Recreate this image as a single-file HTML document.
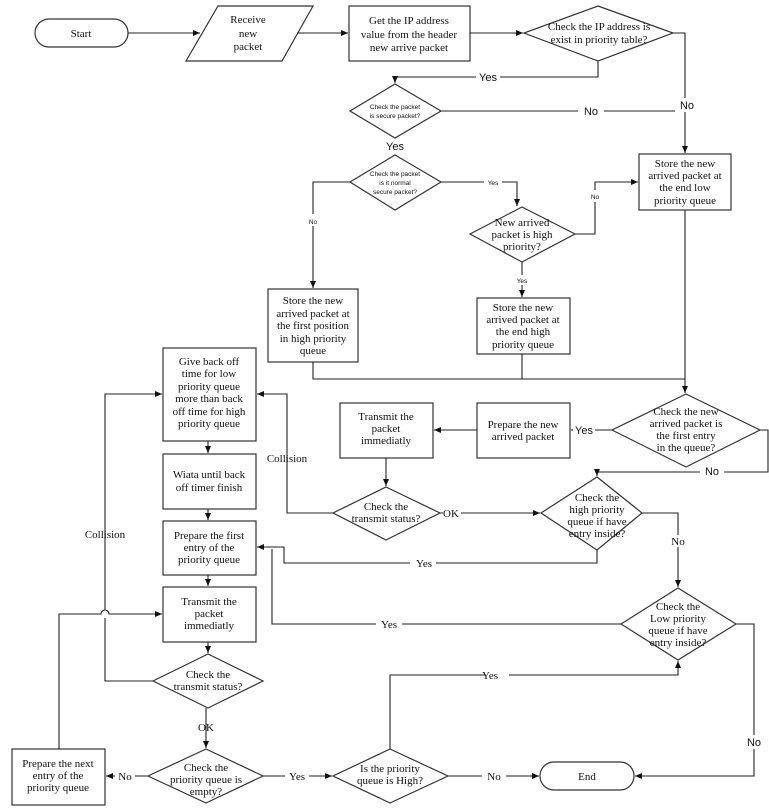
<!DOCTYPE html>
<html><head><meta charset="utf-8"><style>
html,body{margin:0;padding:0;background:#fff}
svg{display:block}
text{font-family:"Liberation Serif",serif;font-size:11px;fill:#111;text-anchor:middle}
.s{font-family:"Liberation Sans",sans-serif}
.t{font-family:"Liberation Sans",sans-serif;font-size:6.5px}
</style></head><body>
<svg width="769" height="809" viewBox="0 0 769 809" xmlns="http://www.w3.org/2000/svg">
<defs><marker id="a" markerWidth="8" markerHeight="8" refX="7" refY="4" orient="auto" markerUnits="userSpaceOnUse"><path d="M0,1 L7,4 L0,7 z" fill="#111"/></marker></defs>
<g fill="#fff" stroke="#333" stroke-width="1.2">
<rect x="35" y="19" width="93" height="28" rx="14"/>
<polygon points="218,6 313,6 282,61 186,61"/>
<rect x="349" y="6" width="121" height="55"/>
<polygon points="598,6 673,33 598,61 524,33"/>
<polygon points="395,84 441,111 395,138 350,111"/>
<polygon points="395,155 441,182 395,210 350,182"/>
<polygon points="522,207 575,234 522,262 470,234"/>
<rect x="639" y="154" width="92" height="56"/>
<rect x="268" y="289" width="90" height="73"/>
<rect x="477" y="298" width="93" height="56"/>
<polygon points="686,394 760,430 686,467 612,430"/>
<rect x="477" y="403" width="93" height="55"/>
<rect x="340" y="403" width="93" height="55"/>
<polygon points="386,487 440,513 386,540 333,513"/>
<polygon points="597,477 642,513 597,550 541,513"/>
<rect x="163" y="348" width="93" height="93"/>
<rect x="163" y="454" width="93" height="55"/>
<rect x="163" y="521" width="93" height="54"/>
<rect x="163" y="587" width="93" height="55"/>
<polygon points="208,654 263,681 208,708 153,681"/>
<polygon points="206,749 263,776 206,803 148,776"/>
<rect x="12" y="749" width="93" height="56"/>
<polygon points="390,749 448,776 390,803 333,776"/>
<rect x="540" y="762" width="94" height="28" rx="14"/>
<polygon points="678,588 736,624 678,660 621,624"/>
</g>
<g fill="none" stroke="#222" stroke-width="1.1">
<path d="M128,33 H200" marker-end="url(#a)"/>
<path d="M297,33 H348" marker-end="url(#a)"/>
<path d="M470,33 H523" marker-end="url(#a)"/>
<path d="M598,61 V77 H395 V83" marker-end="url(#a)"/>
<path d="M673,33 H685 V153" marker-end="url(#a)"/>
<path d="M441,111 H685"/>
<path d="M350,182 H313 V288" marker-end="url(#a)"/>
<path d="M441,182 H517 V206" marker-end="url(#a)"/>
<path d="M575,234 H595 V182 H638" marker-end="url(#a)"/>
<path d="M522,262 V297" marker-end="url(#a)"/>
<path d="M313,362 V379 H685"/>
<path d="M522,354 V379"/>
<path d="M685,210 V393" marker-end="url(#a)"/>
<path d="M612,430 H571" marker-end="url(#a)"/>
<path d="M477,430 H434" marker-end="url(#a)"/>
<path d="M760,430 H768 V472 H597 V476" marker-end="url(#a)"/>
<path d="M386,458 V486" marker-end="url(#a)"/>
<path d="M333,513 H287 V394 H257" marker-end="url(#a)"/>
<path d="M440,513 H540" marker-end="url(#a)"/>
<path d="M642,513 H678 V587" marker-end="url(#a)"/>
<path d="M597,550 V563 H284 V547 H257" marker-end="url(#a)"/>
<path d="M621,624 H272 V549"/>
<path d="M208,441 V453" marker-end="url(#a)"/>
<path d="M208,509 V520" marker-end="url(#a)"/>
<path d="M208,575 V586" marker-end="url(#a)"/>
<path d="M208,642 V653" marker-end="url(#a)"/>
<path d="M153,681 H105 V618 M105,610 V394 H162" marker-end="url(#a)"/>
<path d="M59,749 V614 H101 A4,4 0 0 1 109,614 H162" marker-end="url(#a)"/>
<path d="M206,708 V748" marker-end="url(#a)"/>
<path d="M148,776 H106" marker-end="url(#a)"/>
<path d="M263,776 H332" marker-end="url(#a)"/>
<path d="M390,749 V675 H678 V661" marker-end="url(#a)"/>
<path d="M448,776 H539" marker-end="url(#a)"/>
<path d="M736,624 H754 V776 H635" marker-end="url(#a)"/>
</g>
<g fill="#fff" stroke="none">
<rect x="476" y="71" width="24" height="12"/><rect x="578" y="105" width="26" height="12"/>
<rect x="675" y="98" width="24" height="14"/><rect x="484" y="177" width="18" height="10"/>
<rect x="305" y="214" width="16" height="12"/><rect x="587" y="190" width="16" height="12"/>
<rect x="512" y="275" width="20" height="10"/><rect x="573" y="424" width="22" height="12"/>
<rect x="700" y="466" width="24" height="12"/><rect x="443" y="507" width="18" height="12"/>
<rect x="668" y="535" width="20" height="12"/><rect x="410" y="557" width="26" height="12"/>
<rect x="376" y="618" width="26" height="12"/><rect x="485" y="669" width="24" height="12"/>
<rect x="115" y="770" width="20" height="12"/><rect x="285" y="770" width="24" height="12"/>
<rect x="482" y="770" width="24" height="12"/><rect x="744" y="735" width="20" height="14"/>
</g>
<text x="81" y="37">Start</text>
<text x="248" y="23">Receive</text><text x="248" y="37">new</text><text x="248" y="50">packet</text>
<text x="409" y="24">Get the IP address</text><text x="409" y="38">value from the header</text><text x="409" y="51">new arrive packet</text>
<text x="599" y="30">Check the IP address is</text><text x="599" y="43">exist in priority table?</text>
<text x="488" y="81" class="s" font-size="10">Yes</text>
<text x="687" y="109" class="s" font-size="11">No</text>
<text x="591" y="115" class="s" font-size="11">No</text>
<text x="395" y="109" class="t">Check the packet</text><text x="395" y="118" class="t">is secure packet?</text>
<text x="395" y="150" class="s" font-size="11">Yes</text>
<text x="395" y="176" class="t">Check the packet</text><text x="395" y="185" class="t">is it normal</text><text x="395" y="194" class="t">secure packet?</text>
<text x="493" y="185" class="t">Yes</text>
<text x="313" y="224" class="t">No</text>
<text x="595" y="199" class="t">No</text>
<text x="522" y="226">New arrived</text><text x="522" y="238">packet is high</text><text x="522" y="250">priority?</text>
<text x="522" y="283" class="t">Yes</text>
<text x="685" y="167">Store the new</text><text x="685" y="179">arrived packet at</text><text x="685" y="191">the end low</text><text x="685" y="204">priority queue</text>
<text x="313" y="304">Store the new</text><text x="313" y="317">arrived packet at</text><text x="313" y="329">the first position</text><text x="313" y="342">in high priority</text><text x="313" y="354">queue</text>
<text x="523" y="311">Store the new</text><text x="523" y="323">arrived packet at</text><text x="523" y="335">the end high</text><text x="523" y="348">priority queue</text>
<text x="686" y="415">Check the new</text><text x="686" y="427">arrived packet is</text><text x="686" y="439">the first entry</text><text x="686" y="451">in the queue?</text>
<text x="584" y="434" class="s" font-size="10">Yes</text>
<text x="712" y="475" class="s" font-size="10">No</text>
<text x="523" y="428">Prepare the new</text><text x="523" y="440">arrived packet</text>
<text x="386" y="420">Transmit the</text><text x="386" y="432">packet</text><text x="386" y="444">immediatly</text>
<text x="386" y="510">Check the</text><text x="386" y="522">transmit status?</text>
<text x="451" y="517">OK</text>
<text x="287" y="462">Collision</text>
<text x="597" y="501">Check the</text><text x="597" y="513">high priority</text><text x="597" y="525">queue if have</text><text x="597" y="537">entry inside?</text>
<text x="678" y="545">No</text>
<text x="424" y="567">Yes</text>
<text x="209" y="365">Give back off</text><text x="209" y="377">time for low</text><text x="209" y="390">priority queue</text><text x="209" y="402">more than back</text><text x="209" y="415">off time for high</text><text x="209" y="427">priority queue</text>
<text x="209" y="478">Wiata until back</text><text x="209" y="491">off timer finish</text>
<text x="209" y="539">Prepare the first</text><text x="209" y="551">entry of the</text><text x="209" y="563">priority queue</text>
<text x="209" y="605">Transmit the</text><text x="209" y="617">packet</text><text x="209" y="629">immediatly</text>
<text x="105" y="538">Collision</text>
<text x="389" y="628">Yes</text>
<text x="678" y="610">Check the</text><text x="678" y="622">Low priority</text><text x="678" y="634">queue if have</text><text x="678" y="646">entry inside?</text>
<text x="208" y="678">Check the</text><text x="208" y="690">transmit status?</text>
<text x="206" y="731">OK</text>
<text x="490" y="679">Yes</text>
<text x="754" y="746" class="s" font-size="11">No</text>
<text x="58" y="767">Prepare the next</text><text x="58" y="779">entry of the</text><text x="58" y="791">priority queue</text>
<text x="125" y="780">No</text>
<text x="206" y="771">Check the</text><text x="206" y="783">priority queue is</text><text x="206" y="795">empty?</text>
<text x="297" y="780">Yes</text>
<text x="390" y="772">Is the priority</text><text x="390" y="784">queue is High?</text>
<text x="494" y="780">No</text>
<text x="587" y="780">End</text>
</svg>
</body></html>
